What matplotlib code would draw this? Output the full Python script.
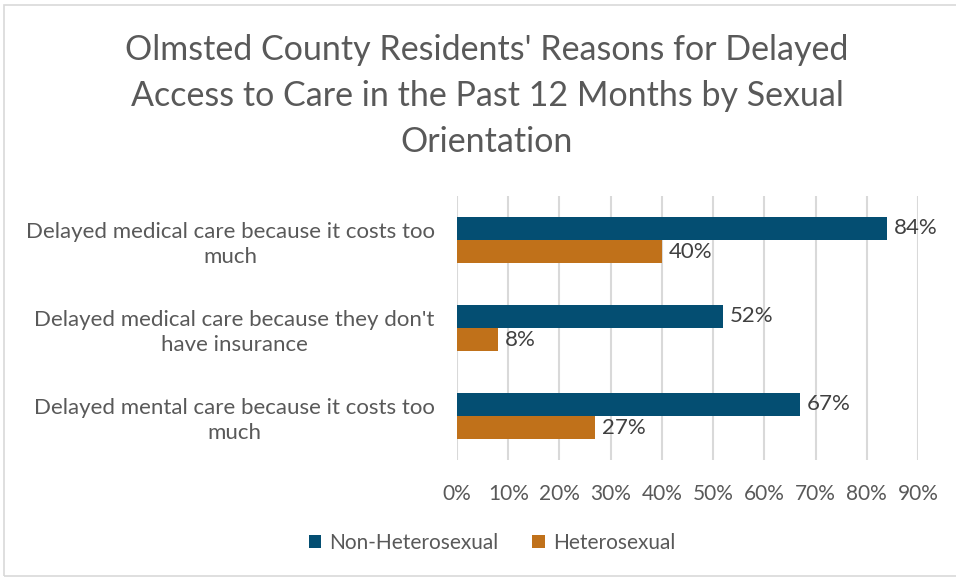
import matplotlib.pyplot as plt
import numpy as np

# Survey results, share of residents who delayed care (percent)
reasons = [
    "Delayed medical care because it costs too\nmuch",
    "Delayed medical care because they don't\nhave insurance",
    "Delayed mental care because it costs too\nmuch",
]
non_hetero = [84, 52, 67]
hetero = [40, 8, 27]
series_names = ["Non-Heterosexual", "Heterosexual"]
ticks = [0, 10, 20, 30, 40, 50, 60, 70, 80, 90]

BLUE = "#044e72"
ORANGE = "#c0711a"
TEXT = "#595959"

plt.rcParams["font.family"] = ["Lato", "DejaVu Sans"]

fig = plt.figure(figsize=(9.56, 5.78), dpi=100)
ax = fig.add_axes([457 / 956, 1 - 460 / 578, (918 - 457) / 956, 264 / 578])

y = np.arange(len(reasons))
h = 0.265
ax.barh(y - h / 2, non_hetero, height=h, color=BLUE, label=series_names[0], zorder=3)
ax.barh(y + h / 2, hetero, height=h, color=ORANGE, label=series_names[1], zorder=3)

for yi, v in zip(y, non_hetero):
    ax.text(v + 1.3, yi - h / 2, f"{v}%", va="center", ha="left", fontsize=16, color="#404040")
for yi, v in zip(y, hetero):
    ax.text(v + 1.3, yi + h / 2, f"{v}%", va="center", ha="left", fontsize=16, color="#404040")

ax.set_ylim(len(reasons) - 0.5, -0.5)
ax.set_xlim(0, 90)
ax.set_yticks(y)
ax.set_yticklabels(reasons, fontsize=16, color=TEXT, multialignment="center", linespacing=1.3)
ax.set_xticks(ticks)
ax.set_xticklabels([f"{t}%" for t in ticks], fontsize=15, color=TEXT)
ax.tick_params(length=0)
ax.tick_params(axis="x", pad=17)
ax.tick_params(axis="y", pad=16)
ax.xaxis.grid(True, color="#d9d9d9", linewidth=1.5, zorder=0)
for s in ax.spines.values():
    s.set_visible(False)

fig.text(
    487 / 956, 1 - 96 / 578,
    "Olmsted County Residents' Reasons for Delayed\nAccess to Care in the Past 12 Months by Sexual\nOrientation",
    ha="center", va="center", fontsize=24.5, color=TEXT, linespacing=1.52,
)

fig.legend(
    loc="center", bbox_to_anchor=(492 / 956, 1 - 543 / 578), ncol=2, frameon=False,
    fontsize=15, labelcolor=TEXT, handlelength=0.6, handleheight=0.6,
    handletextpad=0.4, columnspacing=1.6,
)

# light frame around the chart area
fig.patches.append(plt.Rectangle((4 / 956, 2 / 578), 960 / 956, 571 / 578,
                                 transform=fig.transFigure, fill=False,
                                 edgecolor="#d9d9d9", linewidth=1.2))

fig.savefig("out.png", dpi=100)
